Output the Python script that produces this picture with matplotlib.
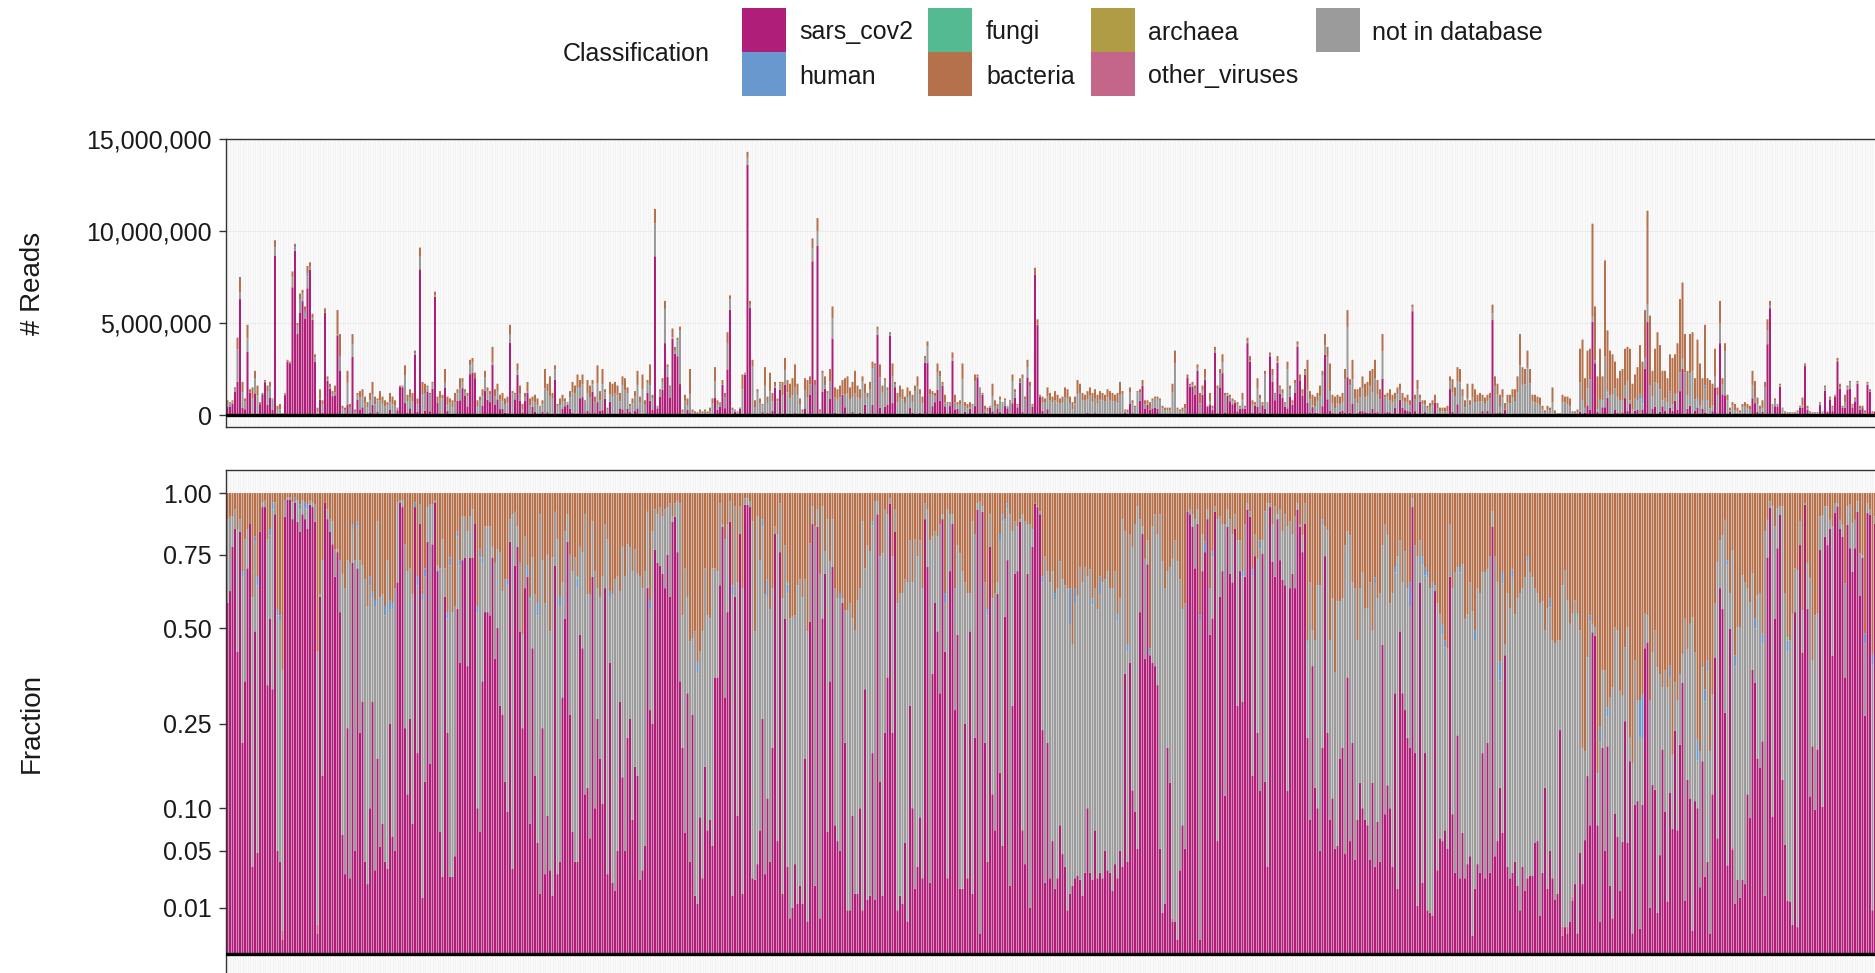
import matplotlib.pyplot as plt
import numpy as np
from matplotlib.patches import Rectangle
from matplotlib.ticker import FuncFormatter

plt.rcParams['font.family'] = ['Liberation Sans', 'DejaVu Sans']

# total reads per sample, millions
total_reads_m = [
    0.8, 0.7, 0.8, 1.5, 4.2, 7.5, 1.8, 0.9, 4.9, 1.4,
    1.5, 2.4, 1.6, 0.7, 1.2, 1.9, 1.6, 1.8, 0.9, 9.5,
    0.5, 0.6, 0.1, 1.2, 3.0, 2.9, 7.8, 9.3, 5.0, 6.6,
    6.8, 5.9, 8.1, 8.3, 5.5, 3.3, 0.4, 1.4, 0.8, 5.8,
    2.1, 1.7, 1.3, 1.6, 5.7, 4.4, 0.5, 0.4, 2.4, 0.6,
    4.4, 0.3, 1.2, 1.3, 1.4, 1.0, 0.7, 1.2, 1.8, 1.0,
    0.9, 1.3, 1.0, 0.8, 0.7, 1.2, 1.0, 0.8, 0.4, 1.6,
    1.6, 2.7, 1.1, 1.4, 1.2, 3.5, 0.9, 9.1, 1.8, 1.7,
    1.6, 1.2, 1.8, 6.7, 1.0, 1.3, 1.1, 2.5, 1.0, 0.9,
    0.8, 1.2, 1.4, 2.0, 2.0, 1.4, 1.2, 3.0, 3.1, 2.3,
    0.8, 1.0, 1.4, 2.4, 1.5, 1.3, 3.7, 1.4, 1.7, 1.1,
    1.2, 0.9, 1.0, 4.9, 1.3, 1.2, 2.8, 1.6,
    0.6, 1.2, 1.8, 0.9, 1.0, 1.1, 0.9, 0.5, 0.8, 2.5,
    1.7, 2.1, 1.2, 2.7, 0.6, 0.9, 1.1, 0.9, 0.7, 1.3,
    1.8, 1.6, 2.2, 1.9, 2.2, 0.8, 1.9, 1.6, 1.9, 1.0,
    2.7, 1.3, 2.5, 1.4, 0.4, 1.8, 1.7, 1.8, 1.6, 1.2,
    2.1, 2.0, 1.5, 0.6, 0.9, 1.3, 2.4, 1.0, 2.2, 0.8,
    1.9, 2.75, 1.1, 11.2, 0.5, 1.4, 2.0, 6.2, 2.75, 1.6,
    4.7, 3.7, 4.2, 4.8, 0.3, 1.1, 0.9, 2.5, 0.3, 0.2,
    0.15, 0.3, 0.2, 0.3, 0.2, 0.4, 0.9, 2.6, 0.8, 0.7,
    1.9, 1.2, 4.5, 6.5, 0.4, 0.3, 0.2, 0.4, 2.2, 2.3,
    14.3, 6.2, 3.0, 0.8, 1.4, 0.9, 0.6, 2.6, 1.0, 2.3,
    1.2, 1.8, 0.9, 1.8,
    1.8, 3.1, 1.9, 1.7, 2.0, 2.75, 1.7, 0.9, 0.3, 2.0,
    1.9, 2.1, 9.6, 1.9, 10.7, 0.3, 2.4, 2.1, 1.3, 2.5,
    5.9, 1.5, 1.4, 1.6, 1.9, 2.0, 2.1, 1.5, 1.8, 2.4,
    1.6, 1.4, 2.1, 1.7, 1.2, 1.8, 2.9, 2.8, 4.8, 2.75,
    1.6, 2.0, 1.5, 4.5, 2.8, 1.8, 1.2, 1.6, 1.4, 1.0,
    1.5, 1.3, 1.1, 1.6, 2.1, 1.4, 1.0, 3.2, 4.0, 1.4,
    1.3, 1.2, 2.8, 2.4, 1.8, 1.1, 0.7, 0.7, 3.4, 1.1,
    0.7, 0.8, 2.8, 0.7, 0.6, 0.7, 0.6, 2.2, 2.2, 1.5,
    1.2, 0.5, 0.4, 0.5, 1.7, 0.8, 0.6, 1.0, 0.7, 0.9,
    0.5, 0.8, 2.2, 1.4, 0.6, 2.0, 2.2, 1.0, 3.0, 1.8,
    0.6, 8.0, 5.2, 1.1,
    1.0, 0.9, 1.5, 1.2, 1.0, 1.3, 1.1, 0.9, 1.0, 1.5,
    1.4, 1.0, 0.7, 1.0, 1.9, 1.7, 1.2, 1.1, 1.3, 1.5,
    1.2, 1.4, 1.1, 1.3, 1.2, 1.1, 1.4, 1.3, 1.2, 1.1,
    1.2, 1.8, 1.3, 0.3, 0.3, 1.5, 0.8, 0.5, 1.3, 1.4,
    1.9, 0.8, 0.8, 0.7, 0.9, 1.0, 1.0, 0.9, 0.5, 0.4,
    0.4, 0.4, 1.7, 3.5, 0.4, 0.3, 0.4, 0.6, 2.2, 1.7,
    1.8, 1.6, 2.75, 1.2, 1.6, 2.5, 0.5, 1.2, 0.5, 3.7,
    1.6, 2.5, 3.3, 1.2, 1.2, 1.1, 0.9, 0.8, 0.7, 0.5,
    1.2, 0.5, 4.2, 3.2, 0.8, 0.7, 2.0, 1.1, 0.7, 2.4,
    0.7, 3.4, 2.5, 1.2, 3.2, 1.6, 1.4, 0.7, 2.9, 1.6,
    0.8, 1.9, 4.0, 2.2,
    1.4, 2.5, 3.0, 1.3, 1.1, 1.0, 1.2, 1.6, 2.4, 4.4,
    3.7, 2.8, 1.1, 1.0, 1.1, 1.0, 1.2, 2.5, 5.7, 1.95,
    3.0, 1.4, 1.4, 1.5, 2.1, 1.7, 1.8, 2.4, 2.5, 3.0,
    1.9, 1.4, 4.4, 1.1, 1.2, 1.4, 1.1, 1.2, 1.5, 1.7,
    1.2, 0.95, 1.1, 0.8, 6.0, 1.1, 1.9, 1.1, 0.8, 0.8,
    0.5, 0.65, 0.8, 1.1, 0.65, 0.4, 0.4, 0.4, 0.5, 2.1,
    1.95, 1.5, 2.6, 2.5, 1.4, 0.8, 1.7, 0.8, 1.7, 1.4,
    1.1, 1.2, 1.1, 0.95, 1.1, 1.2, 6.0, 2.1, 1.7, 1.1,
    1.4, 0.65, 1.1, 1.1, 1.4, 1.4, 2.1, 4.4, 2.6, 2.5,
    3.5, 2.5, 1.1, 1.1, 1.0, 0.95, 0.5, 0.25, 0.5, 0.4,
    1.5, 0.25, 0.1, 0.1,
    1.1, 1.0, 1.0, 0.9, 0.2, 0.2, 0.3, 3.6, 4.1, 2.0,
    3.5, 3.6, 10.4, 5.9, 2.1, 3.6, 2.1, 8.4, 4.6, 3.5,
    3.3, 2.9, 2.0, 2.4, 2.5, 3.6, 3.7, 3.6, 1.7, 2.2,
    2.6, 3.8, 2.9, 5.7, 11.1, 5.4, 2.4, 3.6, 4.5, 3.8,
    2.4, 2.4, 2.0, 3.3, 3.1, 3.3, 3.9, 6.3, 7.2, 4.4,
    2.4, 4.4, 4.5, 2.0, 4.1, 2.8, 2.0, 4.9, 2.0, 1.9,
    1.7, 3.6, 1.5, 6.2, 2.0, 3.9, 1.1, 0.4, 0.7, 0.6,
    0.4, 0.25, 0.6, 0.7, 0.6, 0.5, 2.4, 1.85, 0.95, 0.5,
    0.8, 1.8, 5.2, 6.2, 0.6, 0.9, 0.6, 1.7, 0.4, 0.2,
    0.15, 0.15, 0.15, 0.15, 0.25, 0.5, 0.95, 2.8, 0.5, 0.2,
    0.15, 0.15, 0.15, 0.7, 0.2, 1.6, 0.2, 1.0, 0.5, 1.1,
    3.1, 1.7, 0.5, 1.1, 1.6, 1.85, 0.6, 0.95, 1.85, 0.5,
    0.5, 0.25, 1.8, 1.4, 0.2, 0.2,
]

# share of each sample's reads, percent
sars_cov2_pct = [
    58, 62, 78, 85, 43, 84, 21, 35, 70, 87,
    3.6, 49, 4.8, 84, 94, 94, 34, 53, 33, 91,
    5, 4, 0.1, 90, 97, 97, 89, 96, 88, 84,
    91, 89, 85, 95, 94, 88, 0.2, 60, 15, 96,
    89, 84, 79, 67, 76, 55, 6.7, 3, 24, 2.7,
    72, 5, 70, 23, 30, 4, 2.3, 10, 30, 3.3,
    18, 5.4, 8, 4, 3.4, 25, 6.5, 5, 65, 96,
    94, 24, 12, 26, 8, 94, 19, 87, 1.5, 14,
    80, 17, 79, 96, 69, 7, 2.8, 60, 23, 2.8,
    2.8, 4.5, 56, 40, 73, 74, 39, 74, 74, 87,
    10, 7, 35, 55, 55, 54, 74, 41, 50, 29,
    27, 14, 9.5, 80, 3.4, 71, 78, 49,
    24, 63, 67, 8, 44, 15, 5.8, 1.7, 24, 3,
    9, 3.3, 1.6, 71, 3, 4, 31, 53, 80, 27,
    7, 4, 4, 48, 44, 12, 13, 6.3, 67, 10,
    26, 18, 10.6, 63, 3, 40, 2.4, 1.9, 5, 30,
    14.7, 5, 22, 26, 8.5, 16.5, 15, 2.6, 3.3, 5.5,
    63, 28, 25, 77, 72, 71, 68, 63, 75, 60,
    88, 90, 76, 35, 20, 6.9, 32, 4, 27, 1.6,
    1.2, 8.8, 2.7, 16.5, 7.2, 8.5, 5.5, 36, 36, 64,
    86, 31, 55, 88, 1.6, 60, 9, 83, 1.7, 95,
    95, 94, 2.7, 2.6, 3.8, 7.2, 26, 3, 11.4, 4,
    20, 83, 6, 76,
    1.7, 53, 3.6, 0.6, 1, 3.8, 1.2, 2.2, 1.2, 18,
    0.5, 52, 87, 2.2, 86, 0.6, 53, 68, 7, 35,
    70.5, 7.8, 6, 5, 58, 21, 0.9, 0.9, 9, 1.7,
    1.7, 10, 0.9, 33, 1.4, 1.6, 19, 1.4, 91, 14,
    1.6, 23, 36, 95.5, 23, 84, 0.9, 1.6, 1.2, 5.8,
    0.5, 29, 10, 2, 3.6, 8.8, 2.7, 89, 70.5, 2.4,
    37, 58, 49, 32, 89, 43, 2.7, 69, 87, 28,
    48, 2, 2, 25, 2.7, 49, 1.7, 22, 93, 0.2,
    92, 21, 4, 78, 12, 7.2, 61, 15.5, 5.5, 53.5,
    73, 2.2, 29, 68, 69, 88, 7.2, 3.8, 68, 1,
    78, 95.5, 94, 91,
    23.6, 2.4, 21, 2.7, 6, 2, 2.7, 7.8, 4.7, 3.6,
    0.9, 1.7, 2.2, 2.7, 2.9, 2.6, 1.6, 3.1, 10, 3.1,
    2.6, 7.2, 2.7, 3.1, 2.7, 5, 3.3, 3.1, 1.9, 3.8,
    2.7, 5, 3.6, 37, 4, 40, 12.5, 9.5, 5.2, 55,
    83, 41, 71.5, 42, 40, 39, 34, 5.2, 0.8, 1.2,
    20, 13.8, 0.5, 0.5, 0.1, 3.3, 7.8, 5.2, 92, 91,
    86, 70, 87, 0.1, 69, 76, 89, 48, 53, 92,
    6, 60, 69, 11.8, 86, 68, 65, 85, 29, 69,
    30, 67, 93, 90, 15, 74.5, 23, 12.5, 75.5, 14,
    3.6, 94, 72.5, 67, 89, 73, 66, 64, 12.5, 63,
    68, 63, 93, 86,
    76, 87, 22, 8.5, 39, 13, 10, 5, 20, 74.5,
    23, 8.5, 11.4, 5.2, 5.5, 18, 20, 4.7, 36, 6,
    21, 4.2, 8.5, 13.8, 10, 8.5, 7.8, 4.2, 13.8, 3.6,
    8.2, 4, 45, 9.2, 13.4, 10, 3.6, 32, 2, 49,
    32, 28, 22, 20, 94, 19, 1.1, 65, 2.4, 19,
    0.9, 0.8, 0.7, 62, 3.3, 6.3, 6, 7.2, 5.2, 67,
    9.2, 3.1, 22.5, 2.7, 6.9, 2.7, 3.8, 4.5, 0.16, 2,
    3.8, 3.1, 19, 2.7, 21, 3.1, 86, 4.5, 6, 13,
    6.9, 42, 3.6, 2.7, 3.1, 4, 2.2, 0.9, 3.6, 1.9,
    2.7, 2.9, 2.9, 5.8, 6, 0.7, 3.1, 13, 2, 5,
    2.7, 1.4, 1.7, 23.6,
    0.16, 0.34, 0.2, 0.5, 1.35, 2.3, 0.2, 4.8, 2.3, 6.1,
    14.9, 7.8, 48.7, 47.7, 7.8, 0.5, 20, 5, 20.3, 2.2,
    0.6, 9.3, 6.5, 1.9, 5.9, 25.5, 5.8, 17.5, 0.2, 10.5,
    11, 0.3, 10.5, 44, 45.7, 1, 13.5, 12.7, 0.8, 4.6,
    19.7, 9.5, 1.3, 12.2, 7.4, 23.4, 7.2, 20.6, 34.7, 1.35,
    14.3, 11.4, 0.26, 11, 10, 2.1, 17.5, 2.8, 4, 0.2,
    12, 41.4, 6.3, 63, 56, 27.4, 3.7, 49.8, 5.1, 1.2,
    2.6, 1.5, 2.6, 2.3, 12, 8.7, 38, 34.7, 18, 16.3,
    21.3, 1.6, 74, 93.6, 8.9, 53, 77.5, 90.7, 14.3, 5.6,
    1.35, 1.3, 0.4, 55, 0.34, 78.7, 42.8, 95, 56, 11.7,
    20.3, 9.8, 19.7, 76.8, 10.2, 82, 78.7, 85, 41.9, 91.5,
    94.3, 85, 82, 36, 86.7, 77.5, 68.7, 77.5, 92, 60.5,
    74, 26.7, 91.5, 90.7, 0.9, 87,
]

bacteria_pct = [
    11, 10, 10, 7, 15, 11, 31, 19, 15, 14,
    40, 18, 33, 18, 4, 3, 19, 15, 4, 4,
    44, 46, 62, 3, 2, 2, 4, 2, 3, 5,
    3, 4, 5, 3, 4, 5, 57, 39, 27, 4,
    7, 11, 12, 23, 23, 27, 32, 37, 27, 28,
    13, 27, 12, 27, 29, 34, 43, 33, 38, 41,
    12, 40, 39, 43, 27, 41, 42, 37, 4, 3,
    3, 21, 31, 30, 39, 4, 33, 5, 39, 30,
    6, 5, 5, 3, 29, 30, 19, 30, 45, 26,
    45, 43, 16, 27, 10, 10, 16, 10, 7, 13,
    43, 23, 26, 14, 14, 14, 22, 28, 23, 24,
    38, 34, 34, 11, 9, 8, 14, 28,
    52, 18, 29, 40, 26, 39, 42, 9, 27, 42,
    25, 51, 26, 8, 19, 40, 35, 16, 9, 25,
    31, 26, 33, 22, 24, 9, 39, 39, 12, 31,
    37, 40, 33, 13, 19, 38, 39, 34, 33, 38,
    22, 33, 21, 22, 31, 23, 32, 33, 37, 31,
    8, 41, 16, 7, 9, 6, 10, 7, 6, 4.5,
    10, 4.5, 3.4, 4.5, 46, 30, 40, 54, 53, 51,
    60, 57, 51, 30, 46, 47, 30, 30, 31, 4.5,
    13, 19, 13, 3.4, 36, 5.6, 35, 5.6, 37, 2.3,
    2.3, 3.4, 12, 51, 10, 27, 11, 39, 34, 44,
    37, 14, 17, 4.5,
    40.5, 21.5, 35, 47, 46.5, 46, 36, 34, 40, 34,
    51, 20.6, 5.6, 14, 6.8, 32, 5.6, 23.6, 11, 27.5,
    11, 37, 40.5, 38.7, 40.5, 44.5, 44.5, 42, 47, 50.6,
    41, 37, 12, 30, 21.5, 23.6, 12, 3.4, 3.4, 25.5,
    24.5, 6.8, 9, 2.3, 25.5, 6.8, 42, 38.7, 38.7, 34,
    35, 19.5, 35, 19, 25.5, 19.5, 37, 4.5, 6.8, 19.5,
    18, 16, 18, 13, 9, 38.7, 6.8, 9, 9, 37,
    21.5, 24.5, 31, 35, 38.7, 38.7, 12, 17, 4.5, 3.4,
    5.6, 35, 44, 9, 40.5, 38.7, 35, 17, 9, 11,
    4.5, 9, 16, 12, 14, 11, 9, 12, 13, 13,
    15, 4.5, 5.6, 7.8,
    33, 25.5, 31, 35, 31, 38.7, 37, 27.5, 34, 36,
    37, 37, 55, 37, 39.6, 29.5, 35, 29.5, 33, 30.4,
    40.5, 37, 44, 33, 35, 34, 31, 37, 37, 31,
    45.7, 40.5, 11, 16, 55, 17, 22, 13, 5.6, 11,
    14, 26.5, 19.5, 56, 14, 9, 17, 9, 27.5, 37,
    31, 29.5, 26.5, 19.5, 27.5, 34, 44, 42.2, 9, 6.8,
    9, 11, 6.8, 46, 17, 20, 6.8, 37, 23.6, 5.6,
    11, 10, 13, 13, 6.8, 11, 17, 9, 19.5, 19.5,
    31, 13, 4.5, 7.8, 30.4, 17, 26.5, 19.5, 19.5, 7.8,
    4.5, 4.5, 13, 5.6, 9, 6.8, 16, 9, 14, 12,
    17, 10, 4.5, 13,
    17.5, 4.5, 53.8, 35, 50.6, 53.8, 36, 36, 11, 14,
    15.5, 53.8, 40.5, 62.6, 41.4, 41.4, 40.5, 21.5, 16, 17.5,
    35, 37, 53.8, 37, 31.3, 43.9, 43.9, 35, 50.6, 33.2,
    40.5, 38.7, 21.5, 13, 17.5, 42.2, 38.7, 29.5, 25.5, 19.5,
    35, 23.6, 37, 35, 2.3, 21.5, 25.5, 19.5, 25.5, 29.5,
    31.3, 37, 35, 36, 42.2, 45.7, 49, 53.8, 56, 13,
    37, 31.3, 29.5, 29.5, 28.5, 47.3, 45.7, 35, 44.8, 50.6,
    37, 38.7, 31.3, 31.3, 30.4, 25.5, 7.8, 25.5, 35, 59.8,
    31.3, 55, 38.7, 43.9, 30.4, 45.7, 40.5, 38.7, 37, 33.2,
    25.5, 31.3, 33.2, 37, 38.7, 42.2, 41.4, 50.6, 43.9, 40.5,
    53.8, 54.5, 53.8, 53.8,
    36, 30.6, 41.1, 48.7, 45.5, 41.1, 45.5, 50.7, 80, 80.6,
    58.6, 46, 48.7, 49.7, 84.6, 75.9, 62.2, 62.2, 71.4, 69.1,
    66.6, 49.7, 50.7, 67.4, 68.6, 55.7, 49.7, 78, 82.8, 59.5,
    69.8, 69.8, 68.2, 45.5, 46, 69.8, 57.1, 50.7, 61.3, 63.1,
    66.6, 62.2, 66.6, 60.9, 81.3, 65.3, 69.8, 63.1, 57.6, 47.1,
    56.2, 48.7, 46.6, 57.1, 78.4, 80.6, 61.3, 67, 59.5, 80.6,
    68.2, 42.2, 27.6, 19.4, 17.4, 11.3, 27, 38.9, 23.2, 58.1,
    49.7, 49.7, 32.5, 34.9, 37.2, 41.7, 31.9, 47.1, 39.4, 38.9,
    51.7, 16, 11.3, 3.6, 5.7, 14, 6.5, 5.7, 5.7, 38.9,
    52.8, 53.8, 45.5, 30, 30.6, 12, 44.5, 4.3, 28.2, 33.6,
    59.5, 46, 45.5, 9.9, 9.3, 5.7, 5.7, 11.3, 14, 4.3,
    4.3, 11.3, 13.3, 35.4, 5.7, 5, 12.7, 11.3, 3.6, 24.5,
    25.1, 51.7, 4.3, 7.1, 57.6, 9.9,
]

# minor classes, only where they show up (sample index, percent)
human_idx = [6, 11, 12, 17, 18, 20, 21, 27, 29, 31, 32, 50, 52, 57, 58, 59, 63, 65, 66,
             75, 76, 78, 79, 88, 89, 92, 93, 100, 101, 102, 112,
             120, 124, 133, 140, 153, 169, 188, 202, 214, 216,
             224, 245, 258, 287, 304, 309, 310, 312,
             326, 331, 337, 339, 346, 349, 356, 360, 369, 389, 391, 394, 406, 410, 413,
             438, 459, 467, 473, 478, 479, 480, 482, 486, 487, 493, 499, 509, 510, 514, 520, 529,
             545, 549, 552, 565, 566, 577, 588, 591, 592, 600, 603, 611, 614, 624, 655, 658]
human_pct = [2, 2, 3, 2.5, 3, 2, 2, 1.5, 2, 2, 2, 2, 2, 3, 2, 2, 3, 3, 2,
             2, 3, 2, 3, 2, 3, 2, 2, 2, 3, 2, 2,
             4, 4, 3, 3, 2, 3, 3, 3, 3, 6,
             3, 2, 1.5, 3, 2, 3, 3, 2,
             2, 2, 12, 5, 2, 6, 2, 2, 1, 1.5, 4, 2, 2, 2, 3,
             2, 2, 2, 8, 3, 3, 2, 2, 3, 2, 2, 3, 5, 4, 3, 2, 3,
             2, 3, 2, 8, 10, 3, 4, 3, 3, 2, 3, 3, 3, 3, 3, 3]
fungi_idx = [121, 140, 224, 330, 432, 540, 624, 632]
fungi_pct = [0.8, 0.6, 0.8, 0.5, 1, 1, 1, 1]
other_viruses_idx = [22, 36, 362, 378, 534, 536, 538, 602]
other_viruses_pct = [0.15, 0.2, 0.2, 0.1, 0.2, 0.15, 0.2, 0.2]

legend_columns = [['sars_cov2', 'human'], ['fungi', 'bacteria'],
                  ['archaea', 'other_viruses'], ['not in database']]
stack_order = ['sars_cov2', 'other_viruses', 'not in database', 'human',
               'fungi', 'archaea', 'bacteria']
palette = {
    'sars_cov2': '#AF1F79',
    'human': '#6898CE',
    'fungi': '#53BA92',
    'bacteria': '#B5714B',
    'archaea': '#B09C44',
    'other_viruses': '#C4668A',
    'not in database': '#9B9B9B',
}

n = len(total_reads_m)
x = np.arange(n)


def spread(idx, pct):
    out = np.zeros(n)
    out[idx] = pct
    return out / 100


frac = {
    'sars_cov2': np.array(sars_cov2_pct) / 100,
    'human': spread(human_idx, human_pct),
    'fungi': spread(fungi_idx, fungi_pct),
    'other_viruses': spread(other_viruses_idx, other_viruses_pct),
    'archaea': np.zeros(n),
}
rest = 1 - frac['sars_cov2'] - frac['human'] - frac['fungi'] - frac['other_viruses']
frac['bacteria'] = np.minimum(np.array(bacteria_pct) / 100, rest)
frac['not in database'] = rest - frac['bacteria']
reads = np.array(total_reads_m) * 1e6

W, H = 1875, 973
fig = plt.figure(figsize=(W / 100, H / 100), dpi=100)
left = 226 / W
width = (1884 - 226) / W
ax_top = fig.add_axes([left, 1 - 427 / H, width, (427 - 139) / H])
ax_bot = fig.add_axes([left, 1 - 980 / H, width, (980 - 470) / H])


def sqrt_fwd(v):
    return np.sign(v) * np.sqrt(np.abs(v))


def sqrt_inv(v):
    return np.sign(v) * np.asarray(v) ** 2


ax_bot.set_yscale('function', functions=(sqrt_fwd, sqrt_inv))

base_reads = np.zeros(n)
base_frac = np.zeros(n)
for cls in stack_order:
    seg = frac[cls]
    ax_top.bar(x, seg * reads, bottom=base_reads, width=0.8, snap=False,
               color=palette[cls], linewidth=0, zorder=2)
    ax_bot.bar(x, seg, bottom=base_frac, width=0.8, snap=False,
               color=palette[cls], linewidth=0, zorder=2)
    base_reads += seg * reads
    base_frac += seg

ink = '#1A1A1A'
for ax in (ax_top, ax_bot):
    ax.set_facecolor('#FAFAFA')
    ax.set_xlim(-0.6, n + 2.6)
    ax.set_xticks(x)
    ax.tick_params(axis='x', length=0, labelbottom=False)
    ax.grid(axis='x', color='#EFEFEF', linewidth=0.4)
    ax.set_axisbelow(True)
    ax.axhline(0, color='black', linewidth=2.4, zorder=4)
    for spine in ax.spines.values():
        spine.set_color('#333333')
        spine.set_linewidth(1.0)
    ax.tick_params(axis='y', length=5, width=1, color='#333333',
                   labelsize=18, labelcolor=ink, pad=5)

ax_top.set_ylim(-0.652e6, 15e6)
ax_top.set_yticks([0, 5e6, 10e6, 15e6])
ax_top.yaxis.set_major_formatter(FuncFormatter(lambda v, p: f'{int(round(v)):,}'))
ax_top.grid(axis='y', color='#EBEBEB', linewidth=0.8)

ax_bot.set_ylim(-0.00318, 1.1025)
frac_ticks = [0.01, 0.05, 0.10, 0.25, 0.50, 0.75, 1.00]
ax_bot.set_yticks(frac_ticks)
ax_bot.set_yticklabels([f'{t:.2f}' for t in frac_ticks])
ax_bot.yaxis.set_minor_locator(plt.NullLocator())

fig.text(33 / W, 1 - 283 / H, '# Reads', rotation=90, ha='center', va='center',
         fontsize=20, color=ink)
fig.text(32 / W, 1 - 723 / H, 'Fraction', rotation=90, ha='center', va='center',
         fontsize=20, color=ink)

# legend, two rows filled column by column
fig.text(563 / W, 1 - 54 / H, 'Classification', ha='left', va='center',
         fontsize=18, color=ink)
key_x = [742, 928, 1091, 1316]
text_x = [799, 986, 1148, 1372]
key = 44
for col, names in enumerate(legend_columns):
    for row, name in enumerate(names):
        top = 8 + key * row
        fig.patches.append(Rectangle((key_x[col] / W, 1 - (top + key) / H), key / W, key / H,
                                     transform=fig.transFigure, facecolor=palette[name],
                                     edgecolor='none'))
        fig.text(text_x[col] / W, 1 - (top + key / 2 + 2.5) / H, name, ha='left',
                 va='center', fontsize=18, color=ink)

fig.savefig('out.png', dpi=100)
